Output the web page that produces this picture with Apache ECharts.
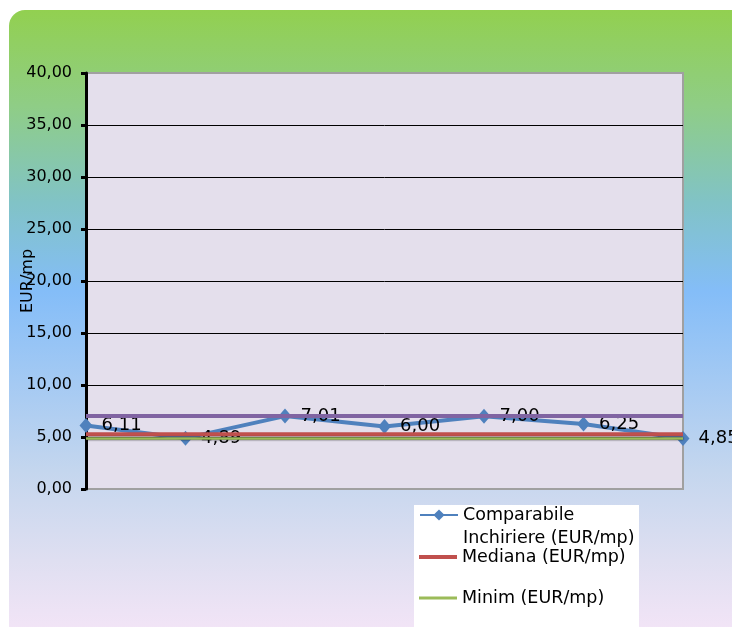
<!DOCTYPE html>
<html>
<head>
<meta charset="utf-8">
<script src="https://cdn.jsdelivr.net/npm/echarts@6/dist/echarts.min.js"></script>
<style>html,body{margin:0;padding:0;background:#fff;}#c{width:732px;height:627px;}</style>
</head>
<body>
<div id="c"></div>
<script>
var categories = ['1', '2', '3', '4', '5', '6', '7'];
var comparabile = [6.11, 4.89, 7.01, 6.00, 7.00, 6.25, 4.85];
var mediana = [5.27, 5.27, 5.27, 5.27, 5.27, 5.27, 5.27];
var minim = [4.85, 4.85, 4.85, 4.85, 4.85, 4.85, 4.85];
var maxim = [7.01, 7.01, 7.01, 7.01, 7.01, 7.01, 7.01];
var yTicks = { min: 0, max: 40, interval: 5 };
var names = ['Comparabile Inchiriere (EUR/mp)', 'Mediana (EUR/mp)', 'Minim (EUR/mp)', 'Maxim (EUR/mp)'];

var FONT = 'DejaVu Sans';
function fmt(v) { return Number(v).toFixed(2).replace('.', ','); }

var chart = echarts.init(document.getElementById('c'));
chart.setOption({
  backgroundColor: '#ffffff',
  animation: false,
  textStyle: { fontFamily: FONT },
  graphic: [
    {
      type: 'rect', z: -100, silent: true,
      shape: { x: 9, y: 10, width: 740, height: 640, r: 16 },
      style: {
        fill: new echarts.graphic.LinearGradient(0, 0, 0, 1, [
          { offset: 0, color: '#92d050' },
          { offset: 0.15, color: '#8fcd86' },
          { offset: 0.3, color: '#81c3c6' },
          { offset: 0.44, color: '#84bdf8' },
          { offset: 0.72, color: '#c4d6ee' },
          { offset: 0.86, color: '#dfdff1' },
          { offset: 1, color: '#f8e6f8' }
        ])
      }
    },
    {
      type: 'rect', z: 2, silent: true,
      shape: { x: 414, y: 505, width: 225, height: 140 },
      style: { fill: '#ffffff' }
    }
  ],
  legend: [
    {
      data: [names[0]],
      formatter: function (n) { return '\n' + n.replace('Comparabile ', 'Comparabile\n'); },
      left: 419, top: 480.5, padding: 0, itemWidth: 38, itemHeight: 14, itemGap: 0,
      selectedMode: false,
      textStyle: { fontFamily: FONT, fontSize: 17.5, color: '#000', lineHeight: 23 }
    },
    {
      data: [{ name: names[1], icon: 'rect' }], left: 419, top: 547, padding: 0, itemWidth: 38, itemHeight: 4,
      selectedMode: false,
      textStyle: { fontFamily: FONT, fontSize: 17.5, color: '#000', lineHeight: 20 }
    },
    {
      data: [{ name: names[2], icon: 'rect' }], left: 419, top: 588, padding: 0, itemWidth: 38, itemHeight: 3,
      selectedMode: false,
      textStyle: { fontFamily: FONT, fontSize: 17.5, color: '#000', lineHeight: 20 }
    }
  ],
  grid: {
    left: 86, right: 49, top: 73, bottom: 138, outerBoundsMode: 'none', containLabel: false,
    show: true, backgroundColor: '#e4dfec', borderColor: '#a0a0a0', borderWidth: 2
  },
  xAxis: {
    type: 'category', data: categories, boundaryGap: false,
    axisLine: { show: false }, axisTick: { show: false }, axisLabel: { show: false },
    splitLine: { show: false }
  },
  yAxis: {
    type: 'value', min: yTicks.min, max: yTicks.max, interval: yTicks.interval,
    name: 'EUR/mp', nameLocation: 'middle', nameRotate: 90, nameGap: 50, nameMoveOverlap: false,
    nameTextStyle: { fontFamily: FONT, fontSize: 16, color: '#000' },
    axisLine: { show: true, lineStyle: { color: '#000', width: 3 } },
    axisTick: { show: true, length: 5, lineStyle: { color: '#000', width: 3 } },
    axisLabel: { formatter: fmt, fontFamily: FONT, fontSize: 16, color: '#000', margin: 14 },
    splitLine: { show: true, showMinLine: false, showMaxLine: false, lineStyle: { color: '#000', width: 1 } }
  },
  series: [
    {
      name: names[0], type: 'line', data: comparabile,
      symbol: 'diamond', symbolSize: [13, 15],
      itemStyle: { color: '#4f81bd' },
      lineStyle: { color: '#4f81bd', width: 4 },
      label: {
        show: true, position: 'right', distance: 9, formatter: function (p) { return fmt(p.value); },
        fontFamily: FONT, fontSize: 18, color: '#000'
      },
      z: 2
    },
    {
      name: names[1], type: 'line', data: mediana, symbol: 'none',
      itemStyle: { color: '#c0504d' }, lineStyle: { color: '#c0504d', width: 4 }, z: 3
    },
    {
      name: names[2], type: 'line', data: minim, symbol: 'none',
      itemStyle: { color: '#9bbb59' },
      lineStyle: { color: '#9bbb59', width: 2.5, shadowColor: 'rgba(0,0,0,0.9)', shadowBlur: 2 }, z: 3
    },
    {
      name: names[3], type: 'line', data: maxim, symbol: 'none',
      itemStyle: { color: '#8064a2' }, lineStyle: { color: '#8064a2', width: 4 }, z: 3
    }
  ]
});
</script>
</body>
</html>
